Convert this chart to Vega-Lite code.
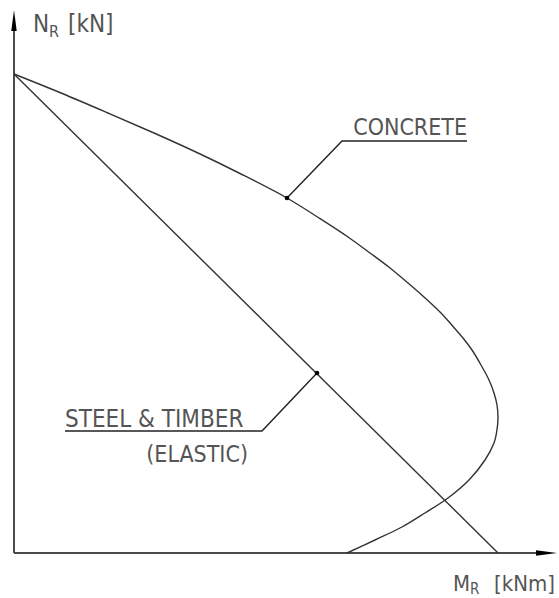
{
  "$schema": "https://vega.github.io/schema/vega-lite/v6.json",
  "width": 543,
  "height": 543,
  "autosize": {"type": "none"},
  "padding": {"left": 14, "top": 10, "right": 2, "bottom": 45},
  "background": "white",
  "config": {
    "view": {"stroke": null},
    "text": {"font": "DejaVu Sans Condensed, Liberation Sans Narrow, DejaVu Sans", "fill": "#555555"}
  },
  "datasets": {
    "axes": [
      {"m": 0, "n": 0, "m2": 0, "n2": 530},
      {"m": 0, "n": 0, "m2": 530, "n2": 0}
    ],
    "tipN": [{"m": 0, "n": 543}],
    "tipM": [{"m": 543, "n": 0}],
    "elastic": [
      {"m": 0, "n": 479},
      {"m": 484, "n": 0}
    ],
    "concrete": [
      {"k": 0, "m": 0, "n": 479},
      {"k": 1, "m": 47, "n": 460},
      {"k": 2, "m": 94, "n": 440},
      {"k": 3, "m": 140, "n": 420},
      {"k": 4, "m": 184, "n": 400},
      {"k": 5, "m": 225, "n": 380},
      {"k": 6, "m": 273, "n": 355},
      {"k": 7, "m": 305, "n": 335},
      {"k": 8, "m": 334, "n": 316},
      {"k": 9, "m": 356, "n": 300},
      {"k": 10, "m": 376, "n": 285},
      {"k": 11, "m": 394, "n": 270},
      {"k": 12, "m": 410, "n": 256},
      {"k": 13, "m": 427, "n": 240},
      {"k": 14, "m": 436, "n": 230},
      {"k": 15, "m": 449, "n": 215},
      {"k": 16, "m": 458, "n": 203},
      {"k": 17, "m": 467, "n": 188},
      {"k": 18, "m": 475, "n": 173},
      {"k": 19, "m": 480, "n": 160},
      {"k": 20, "m": 483, "n": 148},
      {"k": 21, "m": 484, "n": 135},
      {"k": 22, "m": 482.5, "n": 120},
      {"k": 23, "m": 480, "n": 110},
      {"k": 24, "m": 471, "n": 93},
      {"k": 25, "m": 455, "n": 73},
      {"k": 26, "m": 434, "n": 55},
      {"k": 27, "m": 411, "n": 40},
      {"k": 28, "m": 388, "n": 26},
      {"k": 29, "m": 361, "n": 13},
      {"k": 30, "m": 333, "n": 0}
    ],
    "leaders": [
      {"g": "concrete", "k": 0, "m": 273, "n": 355},
      {"g": "concrete", "k": 1, "m": 328, "n": 412},
      {"g": "concrete", "k": 2, "m": 453, "n": 412},
      {"g": "elastic", "k": 0, "m": 303, "n": 180},
      {"g": "elastic", "k": 1, "m": 248, "n": 122},
      {"g": "elastic", "k": 2, "m": 51, "n": 122}
    ],
    "dots": [
      {"m": 273, "n": 355},
      {"m": 303, "n": 180}
    ],
    "labelsRight": [
      {"m": 453, "n": 418, "t": "CONCRETE"},
      {"m": 234, "n": 91, "t": "(ELASTIC)"}
    ],
    "labelsLeft": [
      {"m": 51, "n": 126, "t": "STEEL & TIMBER"}
    ],
    "titleN": [
      {"m": 19, "n": 521, "t": "N"},
      {"m": 54, "n": 521, "t": "[kN]"}
    ],
    "titleNSub": [
      {"m": 35, "n": 516, "t": "R"}
    ],
    "titleM": [
      {"m": 439, "n": -38, "t": "M"}
    ],
    "titleMUnit": [
      {"m": 541, "n": -38, "t": "[kNm]"}
    ],
    "titleMSub": [
      {"m": 456, "n": -41, "t": "R"}
    ]
  },
  "encoding": {
    "x": {"field": "m", "type": "quantitative", "scale": {"domain": [0, 543], "nice": false, "zero": false}, "axis": null},
    "y": {"field": "n", "type": "quantitative", "scale": {"domain": [0, 543], "nice": false, "zero": false}, "axis": null}
  },
  "layer": [
    {
      "data": {"name": "axes"},
      "mark": {"type": "rule", "color": "#4a4a4a", "strokeWidth": 2, "clip": false},
      "encoding": {
        "x2": {"field": "m2"},
        "y2": {"field": "n2"}
      }
    },
    {
      "data": {"name": "tipN"},
      "mark": {"type": "point", "filled": true, "color": "#000000", "opacity": 1, "size": 441, "shape": "M0,0L0.26,2L-0.26,2Z", "clip": false}
    },
    {
      "data": {"name": "tipM"},
      "mark": {"type": "point", "filled": true, "color": "#000000", "opacity": 1, "size": 441, "shape": "M0,0L-2,0.26L-2,-0.26Z", "clip": false}
    },
    {
      "data": {"name": "elastic"},
      "mark": {"type": "line", "color": "#333333", "strokeWidth": 1.4, "clip": false}
    },
    {
      "data": {"name": "concrete"},
      "mark": {"type": "line", "color": "#333333", "strokeWidth": 1.4, "interpolate": "catmull-rom", "clip": false},
      "encoding": {"order": {"field": "k", "type": "quantitative"}}
    },
    {
      "data": {"name": "leaders"},
      "mark": {"type": "line", "color": "#222222", "strokeWidth": 1.4, "clip": false},
      "encoding": {
        "detail": {"field": "g", "type": "nominal"},
        "order": {"field": "k", "type": "quantitative"}
      }
    },
    {
      "data": {"name": "dots"},
      "mark": {"type": "point", "filled": true, "color": "#000000", "opacity": 1, "size": 22, "shape": "circle"}
    },
    {
      "data": {"name": "labelsRight"},
      "mark": {"type": "text", "align": "right", "baseline": "alphabetic", "fontSize": 23},
      "encoding": {"text": {"field": "t"}}
    },
    {
      "data": {"name": "labelsLeft"},
      "mark": {"type": "text", "align": "left", "baseline": "alphabetic", "fontSize": 24},
      "encoding": {"text": {"field": "t"}}
    },
    {
      "data": {"name": "titleN"},
      "mark": {"type": "text", "align": "left", "baseline": "alphabetic", "fontSize": 24, "clip": false},
      "encoding": {"text": {"field": "t"}}
    },
    {
      "data": {"name": "titleNSub"},
      "mark": {"type": "text", "align": "left", "baseline": "alphabetic", "fontSize": 16, "clip": false},
      "encoding": {"text": {"field": "t"}}
    },
    {
      "data": {"name": "titleM"},
      "mark": {"type": "text", "align": "left", "baseline": "alphabetic", "fontSize": 22, "clip": false},
      "encoding": {"text": {"field": "t"}}
    },
    {
      "data": {"name": "titleMUnit"},
      "mark": {"type": "text", "align": "right", "baseline": "alphabetic", "fontSize": 22, "clip": false},
      "encoding": {"text": {"field": "t"}}
    },
    {
      "data": {"name": "titleMSub"},
      "mark": {"type": "text", "align": "left", "baseline": "alphabetic", "fontSize": 15, "clip": false},
      "encoding": {"text": {"field": "t"}}
    }
  ]
}
